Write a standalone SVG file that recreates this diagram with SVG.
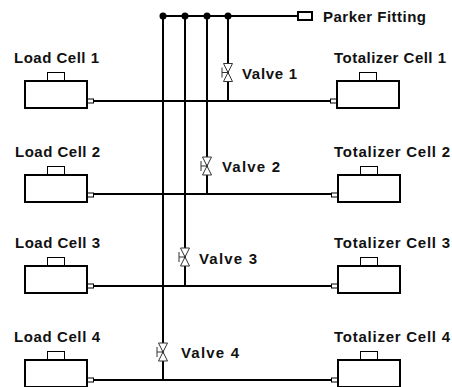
<svg xmlns="http://www.w3.org/2000/svg" width="452" height="387" viewBox="0 0 452 387">
<style>
.l{fill:none;stroke:#000;stroke-width:2}
.b{fill:#fff;stroke:#000;stroke-width:2}
.t{fill:#fff;stroke:#000;stroke-width:1}
.v{fill:#fff;stroke:#333;stroke-width:1}
text{font-family:"Liberation Sans",Arial,sans-serif;font-weight:bold;font-size:15px;fill:#111}
</style>
<defs>
<g id="cellL"><rect class="t" x="22.5" y="-8.5" width="17" height="9"/><rect class="b" x="0" y="0" width="62" height="27"/><rect class="t" x="62.5" y="18" width="6" height="4"/></g>
<g id="cellR"><rect class="t" x="22.5" y="-8.500" width="17" height="9"/><rect class="b" x="0" y="0" width="62" height="27"/><rect class="t" x="-6.500" y="18" width="6" height="4"/></g>
<g id="valve"><path class="v" d="M-4.500,-9H4.500L-4.500,9H4.500Z"/><path d="M-6,-5V5M-6,0H0" fill="none" stroke="#333"/></g>
</defs>
<g id="connectors">
<path class="l" d="M163,16H298M163,16V380M185,16V286M207,16V194M228,16V101"/>
<path class="l" d="M93,101H331M93,194H332M93,286H332M93,380H332"/>
<circle cx="163" cy="16" r="3.500"/><circle cx="185" cy="16" r="3.500"/><circle cx="207" cy="16" r="3.500"/><circle cx="228" cy="16" r="3.500"/>
</g>
<g id="parker"><rect class="b" x="298" y="12" width="14" height="8"/><text x="323" y="22" textLength="103">Parker Fitting</text></g>
<g id="load1"><use href="#cellL" x="25" y="81"/><text x="14" y="63" textLength="85">Load Cell 1</text></g>
<g id="load2"><use href="#cellL" x="25" y="175"/><text x="15" y="157" textLength="85">Load Cell 2</text></g>
<g id="load3"><use href="#cellL" x="25" y="266"/><text x="15" y="248" textLength="85">Load Cell 3</text></g>
<g id="load4"><use href="#cellL" x="25" y="360"/><text x="14" y="342" textLength="86">Load Cell 4</text></g>
<g id="tot1"><use href="#cellR" x="337" y="81"/><text x="334" y="63" textLength="112">Totalizer Cell 1</text></g>
<g id="tot2"><use href="#cellR" x="338" y="175"/><text x="334" y="157" textLength="116">Totalizer Cell 2</text></g>
<g id="tot3"><use href="#cellR" x="338" y="266"/><text x="334" y="248" textLength="116">Totalizer Cell 3</text></g>
<g id="tot4"><use href="#cellR" x="338" y="360"/><text x="334" y="342" textLength="116">Totalizer Cell 4</text></g>
<g id="valve1"><use href="#valve" x="228" y="72.500"/><text x="242" y="79" textLength="55">Valve 1</text></g>
<g id="valve2"><use href="#valve" x="207" y="166"/><text x="222" y="172" textLength="58">Valve 2</text></g>
<g id="valve3"><use href="#valve" x="185" y="257"/><text x="199" y="264" textLength="58">Valve 3</text></g>
<g id="valve4"><use href="#valve" x="163" y="352"/><text x="181" y="358" textLength="58">Valve 4</text></g>
</svg>
